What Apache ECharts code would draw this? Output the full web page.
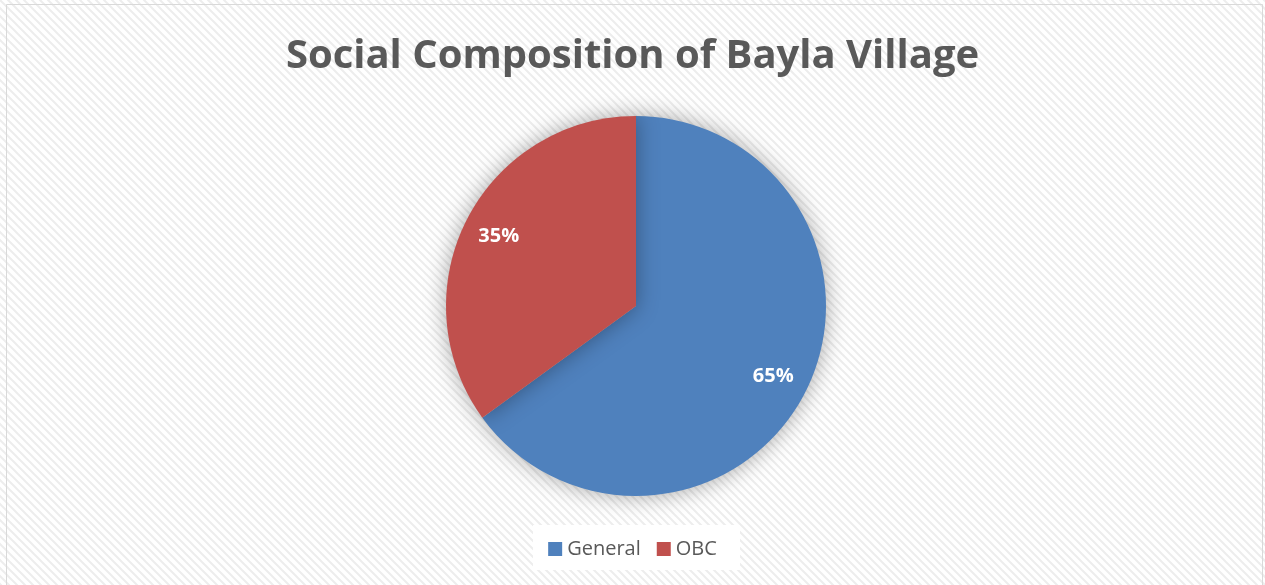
<!DOCTYPE html>
<html><head><meta charset="utf-8">
<script src="https://cdn.jsdelivr.net/npm/echarts@6/dist/echarts.min.js"></script>
<style>html,body{margin:0;padding:0;background:#fff}#c{width:1265px;height:585px}</style>
</head><body><div id="c"></div>
<script>
const categories = ['General', 'OBC'];
const values = [65, 35];
const colors = ['#4F81BD', '#C0504D'];
const titleText = 'Social Composition of Bayla Village';

// hatch pattern
const pc = document.createElement('canvas');
pc.width = 8; pc.height = 8;
const g = pc.getContext('2d');
g.fillStyle = '#ffffff'; g.fillRect(0,0,8,8);
g.strokeStyle = '#ededed'; g.lineWidth = 2;
g.beginPath();
g.moveTo(-2,-2); g.lineTo(10,10);
g.moveTo(-2,6); g.lineTo(2,10);
g.moveTo(6,-2); g.lineTo(10,2);
g.stroke();

const data = categories.map((c,i)=>({name:c, value:values[i], itemStyle:{color:colors[i]}}));
const chart = echarts.init(document.getElementById('c'), null, {renderer:'canvas'});
chart.setOption({
  backgroundColor: {image: pc, repeat: 'repeat'},
  animation: false,
  title: {text: titleText, left: 'center', top: 32,
    textStyle: {fontFamily: 'Open Sans', fontWeight: 'bold', fontSize: 40, color: '#595959'}},
  graphic: [
    {type:'rect', shape:{x:6.5, y:4.5, width:1256, height:600}, style:{fill:'none', stroke:'#d9d9d9', lineWidth:1}, z:-1},
    {type:'rect', shape:{x:533, y:525, width:207, height:45}, style:{fill:'#ffffff'}, z:-1}
  ],
  legend: {top: 534, left: 'center', itemWidth: 14, itemHeight: 14, itemGap: 16, itemStyle:{borderWidth:0}, icon: 'rect',
    textStyle: {fontFamily: 'Open Sans', fontSize: 20, color: '#595959'}, data: categories},
  series: [
    {type:'pie', center:[636,306], radius:[0,190], startAngle:90, clockwise:true,
     label:{show:false}, labelLine:{show:false}, silent:true,
     itemStyle:{shadowBlur:22, shadowColor:'rgba(0,0,0,0.35)'},
     data: data},
    {type:'pie', center:[636,306], radius:[112,190], startAngle:90, clockwise:true, silent:true,
     itemStyle:{color:'transparent'}, labelLine:{show:false},
     label:{show:true, position:'inside', formatter:'{d}%', color:'#fff', fontWeight:'bold', fontSize:20, fontFamily:'Open Sans'},
     data: categories.map((c,i)=>({name:c, value:values[i], itemStyle:{color:'rgba(0,0,0,0)'}})),
     legendHoverLink:false}
  ]
});
</script></body></html>
